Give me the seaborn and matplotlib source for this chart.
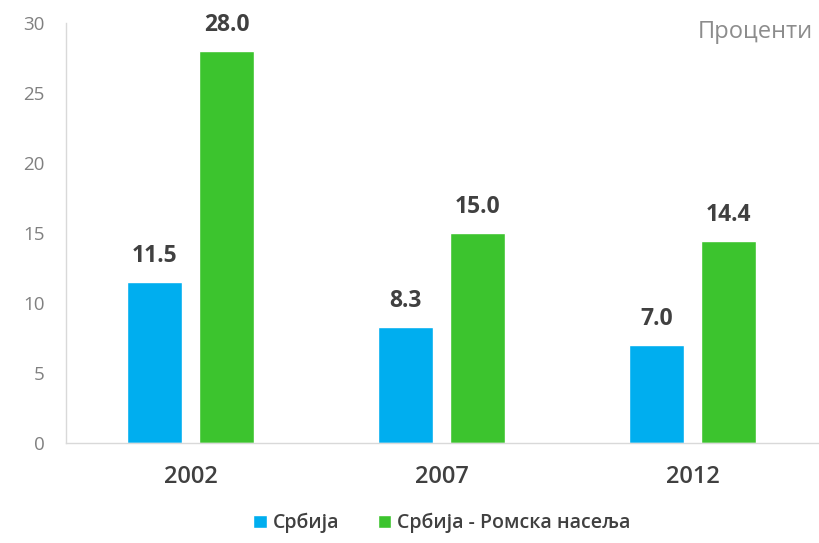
import pandas as pd
import matplotlib.pyplot as plt
import seaborn as sns

sns.set_theme(style='white')
plt.rcParams['font.family'] = ['Open Sans', 'DejaVu Sans']

years = ['2002', '2007', '2012']
series = ['Србија', 'Србија - Ромска насеља']
srbija = [11.5, 8.3, 7.0]
romska = [28.0, 15.0, 14.4]
colors = ['#00AEEF', '#3CC42E']

df = pd.DataFrame({
    'year': years * 2,
    'group': [series[0]] * 3 + [series[1]] * 3,
    'value': srbija + romska,
})

fig, ax = plt.subplots(figsize=(8.19, 5.43), dpi=100)
fig.subplots_adjust(left=0.08, right=0.999, top=0.958, bottom=0.184)

sns.barplot(data=df, x='year', y='value', hue='group', palette=colors,
            width=0.574, gap=0.237, saturation=1, ax=ax, legend=True)

for cont in ax.containers:
    ax.bar_label(cont, fmt='%.1f', padding=10, fontsize=16.5, fontweight='bold',
                 color='#404040')

ax.set_xlim(-0.5, 2.5)
ax.set_ylim(0, 30)
ax.set_yticks(range(0, 31, 5))
ax.set_xlabel('')
ax.set_ylabel('')
ax.tick_params(axis='y', labelsize=13.5, colors='#808080', length=0, pad=15)
ax.tick_params(axis='x', labelsize=17, colors='#404040', length=0, pad=16)
for lbl in ax.get_xticklabels():
    lbl.set_fontweight('semibold')

for side in ['top', 'right']:
    ax.spines[side].set_visible(False)
for side in ['left', 'bottom']:
    ax.spines[side].set_color('#D9D9D9')
    ax.spines[side].set_linewidth(1)

ax.text(0.993, 0.978, 'Проценти', transform=ax.transAxes, ha='right', va='center',
        fontsize=17, color='#8C8C8C')

leg = ax.legend(loc='upper center', bbox_to_anchor=(0.5, -0.125), ncol=2, frameon=False,
                fontsize=14, handlelength=0.7, handleheight=0.7, handletextpad=0.3,
                columnspacing=2.0)
for t in leg.get_texts():
    t.set_color('#404040')
    t.set_fontweight('semibold')

fig.savefig('out.png', dpi=100)
